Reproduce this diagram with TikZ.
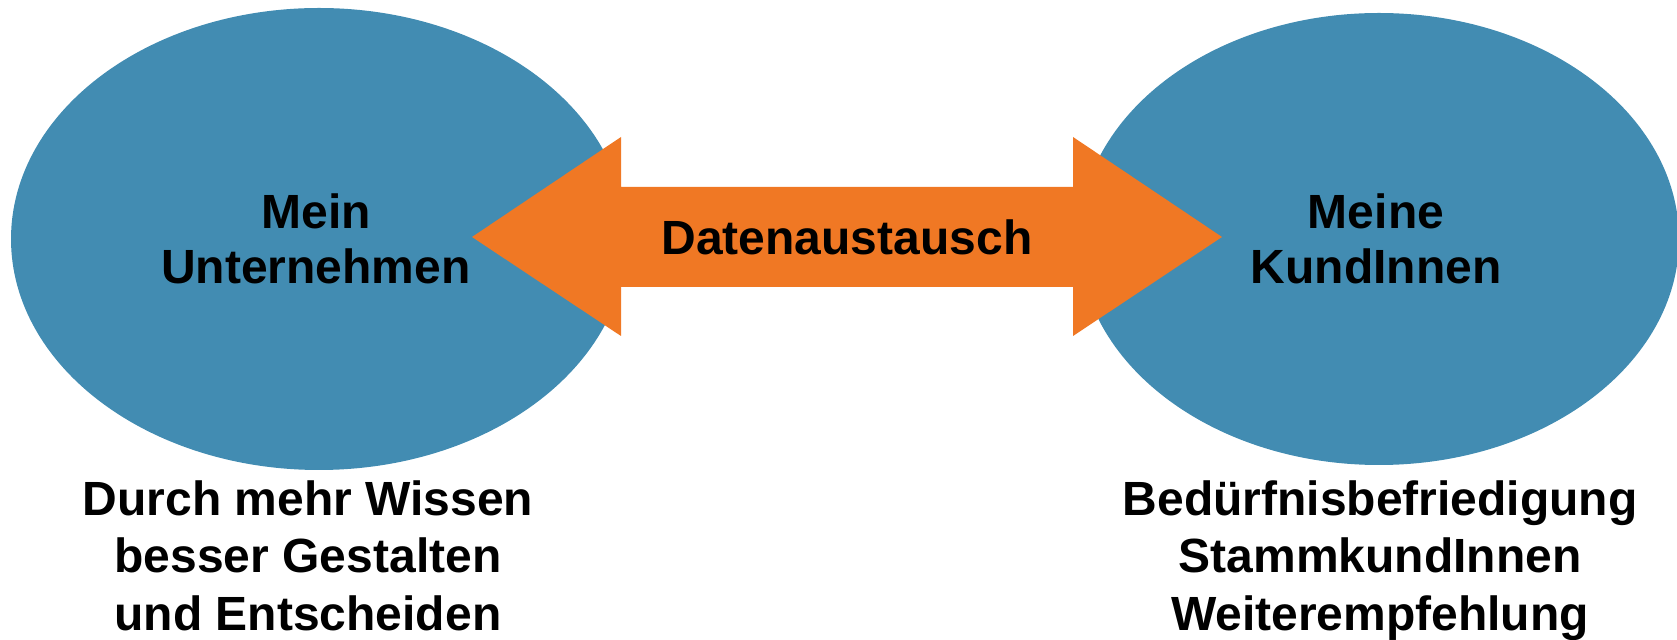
\documentclass[tikz,border=0pt]{standalone}
\usepackage{fontspec}
\setmainfont{Liberation Sans}
\usetikzlibrary{shapes.geometric}

\definecolor{kreisblau}{RGB}{66,140,178}
\definecolor{pfeilorange}{RGB}{240,120,36}

\begin{document}
\begin{tikzpicture}[
    x=0.5pt, y=-0.5pt,
    every node/.style={inner sep=0pt, align=center, font=\bfseries\fontsize{24}{27.5}\selectfont},
    kreis/.style={ellipse, fill=kreisblau},
    unten/.style={anchor=north, font=\bfseries\fontsize{24}{28.75}\selectfont},
]

% Frame
\useasboundingbox (0,0) rectangle (1677,640);

% The two ellipses
\node[kreis, minimum width=308pt, minimum height=231pt] (firma) at (319,239) {};
\node[kreis, minimum width=300pt, minimum height=226pt] (kunden) at (1379,239) {};

% Double arrow
\coordinate (tipL) at (472,237);
\coordinate (tipR) at (1222,237);
\fill[pfeilorange] (tipL) -- (621,137) -- (621,187) -- (1073,187) -- (1073,137)
    -- (tipR) -- (1073,336) -- (1073,287) -- (621,287) -- (621,336) -- cycle;
\node (austausch) at (847,237) {Datenaustausch};

% Labels in the ellipses
\node (firmatext) at (316,239) {Mein\\Unternehmen};
\node (kundentext) at (1376,239) {Meine\\KundInnen};

% Labels below
\node[unten] (nutzen) at (308,480) {Durch mehr Wissen\\besser Gestalten\\und Entscheiden};
\node[unten] (ziele) at (1380,480) {Bedürfnisbefriedigung\\StammkundInnen\\Weiterempfehlung};

\end{tikzpicture}
\end{document}
